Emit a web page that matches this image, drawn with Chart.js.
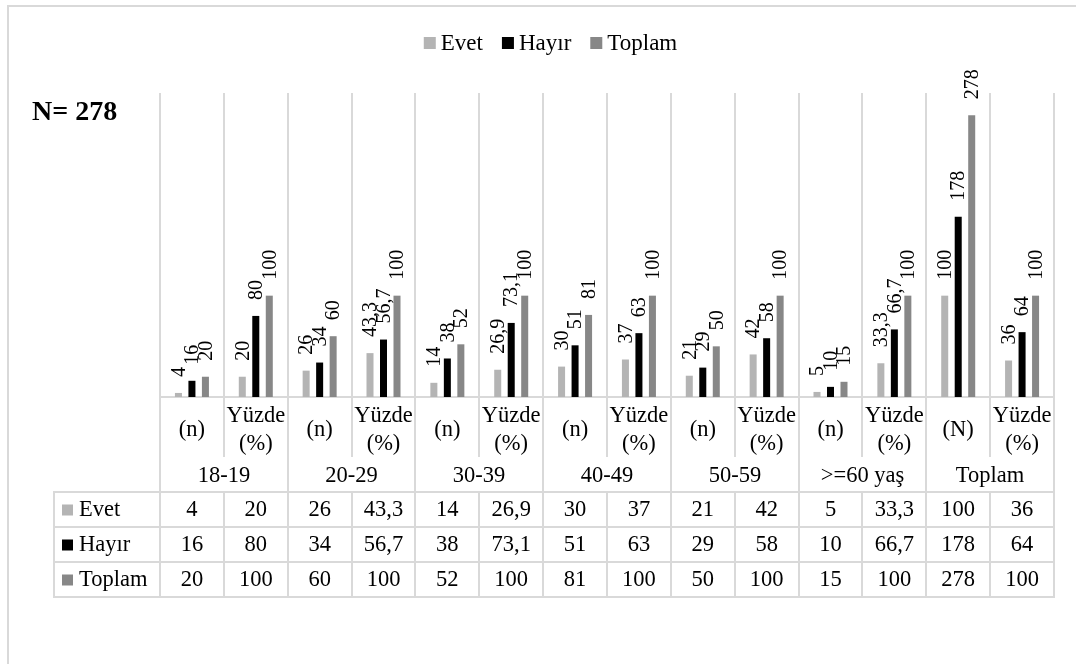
<!DOCTYPE html>
<html>
<head>
<meta charset="utf-8">
<script src="https://cdn.jsdelivr.net/npm/chart.js@4/dist/chart.umd.min.js"></script>
<style>
  body { margin: 0; background: #fff; }
  canvas { display: block; }
</style>
</head>
<body>
<canvas id="chart" width="1076" height="664"></canvas>
<script>
const groups = ['18-19', '20-29', '30-39', '40-49', '50-59', '>=60 yaş', 'Toplam'];
const subLabels = [
  ['(n)'], ['Yüzde', '(%)'], ['(n)'], ['Yüzde', '(%)'], ['(n)'], ['Yüzde', '(%)'],
  ['(n)'], ['Yüzde', '(%)'], ['(n)'], ['Yüzde', '(%)'], ['(n)'], ['Yüzde', '(%)'],
  ['(N)'], ['Yüzde', '(%)']
];
const evet   = [4, 20, 26, 43.3, 14, 26.9, 30, 37, 21, 42, 5, 33.3, 100, 36];
const hayir  = [16, 80, 34, 56.7, 38, 73.1, 51, 63, 29, 58, 10, 66.7, 178, 64];
const toplam = [20, 100, 60, 100, 52, 100, 81, 100, 50, 100, 15, 100, 278, 100];
const seriesNames = ['Evet', 'Hayır', 'Toplam'];
const seriesColors = ['#b4b4b4', '#000000', '#878787'];

const serif = '"Liberation Serif", "Times New Roman", serif';
const lineColor = '#d9d9d9';

function fmt(v) {
  return String(v).replace('.', ',');
}

// data labels above each bar, rotated
const barLabels = {
  id: 'barLabels',
  afterDatasetsDraw(chart) {
    const ctx = chart.ctx;
    ctx.save();
    ctx.font = '20px ' + serif;
    ctx.fillStyle = '#000';
    ctx.textAlign = 'left';
    ctx.textBaseline = 'middle';
    chart.data.datasets.forEach((ds, d) => {
      chart.getDatasetMeta(d).data.forEach((bar, i) => {
        ctx.save();
        ctx.translate(bar.x + 1, bar.y - 16);
        ctx.rotate(-Math.PI / 2);
        ctx.fillText(fmt(ds.data[i]), 0, 0);
        ctx.restore();
      });
    });
    ctx.restore();
  }
};

// frame, legend, N text, category labels and the data table
const decor = {
  id: 'decor',
  beforeDraw(chart) {
    const ctx = chart.ctx;
    ctx.save();
    ctx.fillStyle = '#fff';
    ctx.fillRect(0, 0, chart.width, chart.height);
    ctx.fillStyle = lineColor;
    ctx.fillRect(7, 5, chart.width - 7, 2);
    ctx.fillRect(7, 5, 2, chart.height - 5);
    ctx.restore();
  },
  afterDraw(chart) {
    const ctx = chart.ctx;
    const x = chart.scales.x;
    const area = chart.chartArea;
    const n = subLabels.length;
    const centers = subLabels.map((_, i) => x.getPixelForValue(i));
    const edges = [area.left];
    for (let i = 1; i < n; i++) edges.push(Math.round((centers[i - 1] + centers[i]) / 2));
    edges.push(area.right);

    const axisY = area.bottom;
    const subBottom = 457;
    const rowTops = [492, 527, 562, 597];
    const tableLeft = 54;

    ctx.save();

    // legend
    ctx.font = '23px ' + serif;
    ctx.textBaseline = 'middle';
    ctx.textAlign = 'left';
    const box = 12, gapText = 5, gapItem = 19;
    const widths = seriesNames.map(s => ctx.measureText(s).width);
    let total = widths.reduce((a, w) => a + box + gapText + w, 0) + gapItem * (seriesNames.length - 1);
    let lx = 550.5 - total / 2;
    seriesNames.forEach((s, k) => {
      ctx.fillStyle = seriesColors[k];
      ctx.fillRect(lx, 37, box, box);
      ctx.fillStyle = '#000';
      ctx.fillText(s, lx + box + gapText, 44);
      lx += box + gapText + widths[k] + gapItem;
    });

    // N label
    ctx.font = 'bold 28px ' + serif;
    ctx.textBaseline = 'alphabetic';
    ctx.fillText('N= 278', 32, 120);

    // table lines
    ctx.strokeStyle = lineColor;
    ctx.lineWidth = 2;
    const seg = (x1, y1, x2, y2) => {
      ctx.beginPath();
      ctx.moveTo(x1, y1);
      ctx.lineTo(x2, y2);
      ctx.stroke();
    };
    rowTops.forEach(y => seg(tableLeft - 1, y, area.right + 1, y));
    seg(tableLeft, rowTops[0], tableLeft, rowTops[3]);
    edges.forEach((ex, k) => {
      if (k === 0 || k === n || k % 2 === 0) {
        seg(ex, axisY, ex, rowTops[3]);
      } else {
        seg(ex, axisY, ex, subBottom);
        seg(ex, rowTops[0], ex, rowTops[3]);
      }
    });

    // category labels
    ctx.fillStyle = '#000';
    ctx.font = '22.5px ' + serif;
    ctx.textAlign = 'center';
    ctx.textBaseline = 'middle';
    subLabels.forEach((lines, i) => {
      if (lines.length === 1) {
        ctx.fillText(lines[0], centers[i], 430);
      } else {
        ctx.fillText(lines[0], centers[i], 416);
        ctx.fillText(lines[1], centers[i], 444);
      }
    });
    groups.forEach((g, j) => {
      ctx.fillText(g, (edges[2 * j] + edges[2 * j + 2]) / 2, 476);
    });

    // table rows
    const rows = [evet, hayir, toplam];
    rows.forEach((vals, r) => {
      const cy = (rowTops[r] + rowTops[r + 1]) / 2 + 1;
      ctx.fillStyle = seriesColors[r];
      ctx.fillRect(62, cy - 6, 11, 11);
      ctx.fillStyle = '#000';
      ctx.textAlign = 'left';
      ctx.fillText(seriesNames[r], 79, cy);
      ctx.textAlign = 'center';
      vals.forEach((v, i) => ctx.fillText(fmt(v), centers[i], cy));
    });

    ctx.restore();
  }
};

const chart = new Chart(document.getElementById('chart'), {
  type: 'bar',
  data: {
    labels: subLabels.map(l => l.join(' ')),
    datasets: seriesNames.map((name, k) => ({
      label: name,
      data: [evet, hayir, toplam][k],
      backgroundColor: seriesColors[k],
      categoryPercentage: 0.634,
      barPercentage: 0.52
    }))
  },
  options: {
    responsive: false,
    animation: false,
    devicePixelRatio: 1,
    layout: { padding: { left: 160, right: 22, top: 93, bottom: 267 } },
    plugins: {
      legend: { display: false },
      tooltip: { enabled: false }
    },
    scales: {
      x: {
        offset: true,
        grid: { offset: true, color: lineColor, lineWidth: 2, drawTicks: false },
        border: { color: lineColor, width: 2 },
        ticks: { display: false },
        afterFit(scale) { scale.height = 0; }
      },
      y: { display: false, min: 0, max: 300 }
    }
  },
  plugins: [barLabels, decor]
});
</script>
</body>
</html>
